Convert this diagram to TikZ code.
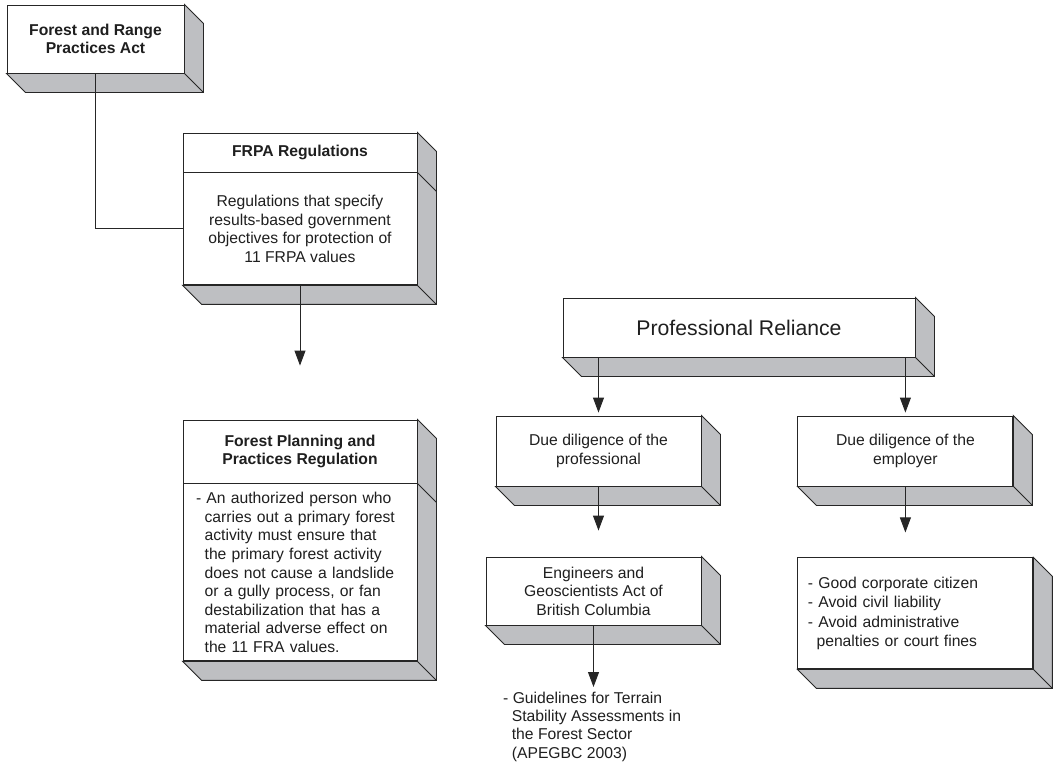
\documentclass[tikz,border=0pt]{standalone}
\usepackage{fontspec}
\setmainfont{Liberation Sans}
\usetikzlibrary{positioning,arrows.meta}
\pgfdeclarelayer{bg}
\pgfsetlayers{bg,main}

\definecolor{ink}{RGB}{38,38,38}
\definecolor{side}{RGB}{190,191,194}

\tikzset{
  plate/.style 2 args={draw=ink, fill=white, line width=0.9pt, inner sep=4pt,
    align=center, text=black!88, minimum width=#1pt, minimum height=#2pt,
    font=\fontsize{15.7}{18.6}\selectfont},
  title/.style={font=\fontsize{15.7}{18.6}\selectfont\bfseries},
  wire/.style={draw=ink, line width=0.9pt},
  flow/.style={wire, -{Triangle[length=15pt,width=11pt]}},
}

% grey right and bottom faces behind a box (#1 top part, #2 bottom part)
\newcommand{\slab}[2]{%
  \filldraw[wire, fill=side] (#2.south west) -- ++(19,19)
    -| ([shift={(19,19)}]#1.north east) -- (#1.north east)
    -- (#2.south east) -- cycle;
  \draw[wire] (#2.south east) -- ++(19,19);
}
\newcommand{\hang}{\hspace*{0.55em}}

\begin{document}
\begin{tikzpicture}[x=1pt, y=-1pt, node distance=0pt]
  \useasboundingbox (0,0) rectangle (1053,769);

  \node[plate={177}{68}, title] (act) at (95.5,39) {Forest and Range\\Practices Act};

  \node[plate={234}{39}, title] (frpahead) at (300,152.5) {FRPA Regulations};
  \node[plate={234}{112}, below=of frpahead] (frpabody)
    {Regulations that specify\\results-based government\\objectives for protection of\\11 FRPA values};

  \node[plate={234}{63}, title] (fpphead) at (300,451.5) {Forest Planning and\\Practices Regulation};
  \node[plate={234}{177}, below=of fpphead, align=left, text width=208pt, inner xsep=13pt] (fppbody)
    {- An authorized person who\\\hang carries out a primary forest\\\hang activity must ensure that\\
     \hang the primary forest activity\\\hang does not cause a landslide\\\hang or a gully process, or fan\\
     \hang destabilization that has a\\\hang material adverse effect on\\\hang the 11 FRA values.};

  \node[plate={352}{59}, font=\fontsize{21.2}{25}\selectfont] (pr) at (739,327.5) {Professional Reliance};

  \node[plate={205}{70}] (dp) at (598.5,451) {Due diligence of the\\professional};
  \node[plate={215}{70}, right=96pt of dp] (de) {Due diligence of the\\employer};

  \node[plate={215}{68}] (eg) at (593.5,591) {Engineers and\\Geoscientists Act of\\British Columbia};
  \node[plate={235}{111}, below=71pt of de, xshift=10pt, align=left, text width=215pt,
    inner xsep=10pt, font=\fontsize{15.7}{19.6}\selectfont] (goals)
    {- Good corporate citizen\\- Avoid civil liability\\- Avoid administrative\\\hang penalties or court fines};

  \node[anchor=north west, align=left, inner sep=0pt, text=black!88,
    font=\fontsize{15.7}{18.2}\selectfont] (guide) at (503,692)
    {- Guidelines for Terrain\\\hang Stability Assessments in\\\hang the Forest Sector\\\hang (APEGBC 2003)};

  \begin{pgfonlayer}{bg}
    \slab{act}{act}
    \slab{frpahead}{frpabody}
    \draw[wire] (frpahead.south east) -- ++(19,19);
    \slab{fpphead}{fppbody}
    \draw[wire] (fpphead.south east) -- ++(19,19);
    \slab{pr}{pr}
    \slab{dp}{dp}
    \slab{de}{de}
    \slab{eg}{eg}
    \slab{goals}{goals}
  \end{pgfonlayer}

  \draw[wire] (act.south) |- (frpabody.west);
  \draw[flow, shorten >=54pt] (frpabody.south) -- (fpphead.north);
  \draw[flow, shorten >=3pt] (pr.south -| dp.north) -- (dp.north);
  \draw[flow, shorten >=3pt] (pr.south -| de.north) -- (de.north);
  \draw[flow, shorten >=26pt] (dp.south) -- (dp.south |- eg.north);
  \draw[flow, shorten >=25pt] (de.south) -- (de.south |- goals.north);
  \draw[flow, shorten >=5pt] (eg.south) -- (eg.south |- guide.north);

\end{tikzpicture}
\end{document}
